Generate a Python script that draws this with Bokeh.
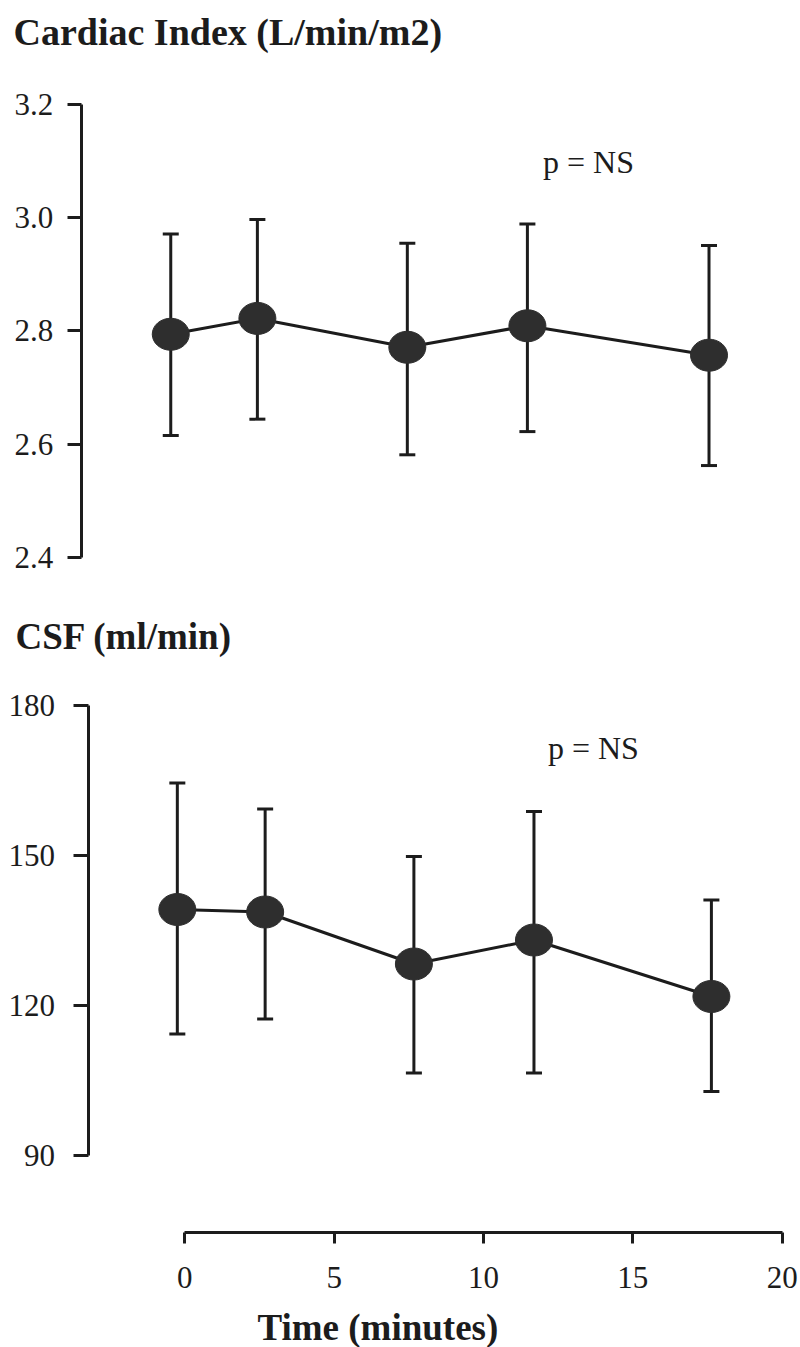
from bokeh.plotting import figure
from bokeh.models import (Range1d, LinearAxis, FixedTicker, PrintfTickFormatter,
                          Whisker, TeeHead, ColumnDataSource, Label, Grid)
from bokeh.embed import file_html
from bokeh.resources import INLINE

# ---------------- data ----------------
ci_time = [-0.47, 2.43, 7.45, 11.47, 17.55]
ci_mean = [2.794, 2.822, 2.771, 2.809, 2.757]
ci_upper = [2.971, 2.997, 2.955, 2.989, 2.951]
ci_lower = [2.615, 2.644, 2.581, 2.622, 2.562]

csf_time = [-0.25, 2.69, 7.67, 11.69, 17.63]
csf_mean = [139.2, 138.7, 128.3, 133.1, 121.8]
csf_upper = [164.5, 159.3, 149.8, 158.8, 141.1]
csf_lower = [114.3, 117.3, 106.5, 106.5, 102.8]

ci_ticks = [2.4, 2.6, 2.8, 3.0, 3.2]
csf_ticks = [90, 120, 150, 180]
time_ticks = [0, 5, 10, 15, 20]

ci_title = "Cardiac Index (L/min/m2)"
csf_title = "CSF (ml/min)"
x_title = "Time (minutes)"
p_text = "p = NS"

# ---------------- styling ----------------
INK = "#1c1c1c"
DOT = "#2e2e2e"
SERIF = "Liberation Serif"

p = figure(width=800, height=1347, output_backend="svg", toolbar_location=None,
           x_axis_location=None, y_axis_location=None,
           x_range=Range1d(-6.170, 20.613), y_range=Range1d(51.6, 321.0),
           min_border=0, background_fill_color="white", border_fill_color="white")
p.extra_y_ranges = {"ci": Range1d(1.0035, 3.3838)}
p.outline_line_color = None
for r in list(p.center):
    if isinstance(r, Grid):
        r.visible = False


def style_axis(ax, tick_out, standoff):
    ax.axis_line_width = 3
    ax.axis_line_color = INK
    ax.major_tick_line_width = 3
    ax.major_tick_line_color = INK
    ax.major_tick_out = tick_out
    ax.major_tick_in = 0
    ax.minor_tick_out = 0
    ax.minor_tick_in = 0
    ax.major_label_text_font = SERIF
    ax.major_label_text_font_size = "31px"
    ax.major_label_text_color = INK
    ax.major_label_standoff = standoff


ci_axis = LinearAxis(y_range_name="ci", fixed_location=-3.47, bounds=(2.4, 3.2),
                     ticker=FixedTicker(ticks=ci_ticks, minor_ticks=[]),
                     formatter=PrintfTickFormatter(format="%.1f"))
style_axis(ci_axis, 14, 14)
p.add_layout(ci_axis, "left")

csf_axis = LinearAxis(fixed_location=-3.24, bounds=(90, 180),
                      ticker=FixedTicker(ticks=csf_ticks, minor_ticks=[]))
style_axis(csf_axis, 15, 18)
p.add_layout(csf_axis, "left")

time_axis = LinearAxis(fixed_location=74.6, bounds=(0, 20),
                       ticker=FixedTicker(ticks=time_ticks, minor_ticks=[]))
style_axis(time_axis, 11, 23)
p.add_layout(time_axis, "below")


def panel(t, m, up, lo, range_name):
    kw = {} if range_name is None else {"y_range_name": range_name}
    src = ColumnDataSource(dict(t=t, m=m, up=up, lo=lo))
    w = Whisker(source=src, base="t", upper="up", lower="lo",
                line_width=3, line_color=INK, level="underlay",
                upper_head=TeeHead(size=16, line_width=3, line_color=INK),
                lower_head=TeeHead(size=16, line_width=3, line_color=INK), **kw)
    p.add_layout(w)
    p.line("t", "m", source=src, line_width=3, line_color=INK, **kw)
    p.ellipse("t", "m", source=src, width=37, height=32,
              width_units="screen", height_units="screen",
              fill_color=DOT, line_color=DOT, line_width=1, **kw)


panel(ci_time, ci_mean, ci_upper, ci_lower, "ci")
panel(csf_time, csf_mean, csf_upper, csf_lower, None)


def label(x, y, text, bold=False, size="37px", align="left", rn=None):
    kw = {} if rn is None else {"y_range_name": rn}
    p.add_layout(Label(x=x, y=y, text=text, text_font=SERIF, text_font_size=size,
                       text_font_style="bold" if bold else "normal",
                       text_color=INK, text_align=align, text_baseline="alphabetic", **kw))


label(-5.735, 3.329, ci_title, bold=True, size="38px", rn="ci")
label(-5.668, 193.8, csf_title, bold=True)
label(13.515, 3.0987, p_text, size="32px", align="center", rn="ci")
label(13.68, 171.5, p_text, size="32px", align="center")
label(2.434, 55.6, x_title, bold=True)

open("out.html", "w").write(file_html(p, INLINE))
